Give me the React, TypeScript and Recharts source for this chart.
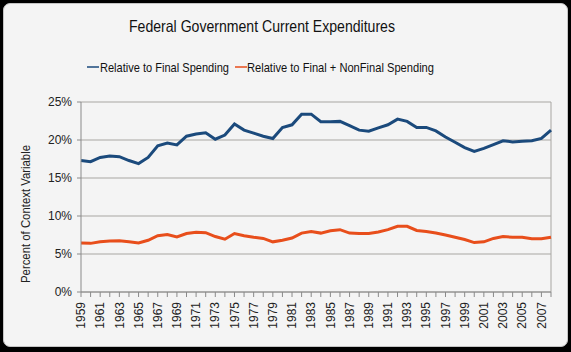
import React from 'react'
import {
  LineChart,
  Line,
  XAxis,
  YAxis,
  CartesianGrid,
  ReferenceLine,
} from 'recharts'

// Valores (% da variável de contexto)
const years = [
  1959, 1960, 1961, 1962, 1963, 1964, 1965, 1966, 1967, 1968,
  1969, 1970, 1971, 1972, 1973, 1974, 1975, 1976, 1977, 1978,
  1979, 1980, 1981, 1982, 1983, 1984, 1985, 1986, 1987, 1988,
  1989, 1990, 1991, 1992, 1993, 1994, 1995, 1996, 1997, 1998,
  1999, 2000, 2001, 2002, 2003, 2004, 2005, 2006, 2007, 2008,
]

const finalSpending = [
  17.3, 17.15, 17.7, 17.9, 17.8, 17.3, 16.9, 17.7, 19.25, 19.6,
  19.35, 20.5, 20.8, 20.95, 20.1, 20.65, 22.1, 21.3, 20.9, 20.5,
  20.2, 21.65, 22.0, 23.4, 23.4, 22.4, 22.4, 22.45, 21.9, 21.3,
  21.15, 21.6, 22.0, 22.75, 22.45, 21.65, 21.65, 21.2, 20.4, 19.7,
  19.0, 18.5, 18.9, 19.4, 19.9, 19.75, 19.85, 19.9, 20.2, 21.3,
]

const finalPlusNonFinal = [
  6.45, 6.4, 6.6, 6.7, 6.75, 6.6, 6.45, 6.8, 7.4, 7.55,
  7.25, 7.7, 7.85, 7.8, 7.3, 6.95, 7.7, 7.4, 7.2, 7.05,
  6.6, 6.8, 7.1, 7.75, 7.95, 7.75, 8.05, 8.2, 7.75, 7.7,
  7.7, 7.9, 8.2, 8.65, 8.65, 8.1, 7.95, 7.75, 7.5, 7.2,
  6.9, 6.5, 6.6, 7.05, 7.3, 7.2, 7.2, 7.0, 7.0, 7.2,
]

const yTicks = [0, 5, 10, 15, 20, 25]

const BLUE = '#1b4a7c'
const ORANGE = '#e84e1b'
const FONT = '"Liberation Sans", Arial, sans-serif'

const data = years.map((year, i) => ({
  year,
  final: finalSpending[i],
  nonFinal: finalPlusNonFinal[i],
}))

// Rótulos do eixo X: verticais, um a cada dois anos
const YearTick = (props: any) => {
  const { x, y, payload, index } = props
  if (index % 2 !== 0) return <g />
  const ty = y + 3
  return (
    <text
      x={x}
      y={ty}
      dy="0.35em"
      textAnchor="end"
      transform={`rotate(-90, ${x}, ${ty})`}
      fontSize={12}
      fontFamily={FONT}
      fill="#222"
    >
      {payload.value}
    </text>
  )
}

export default function App() {
  return (
    <div
      style={{
        position: 'absolute',
        left: 0,
        top: 0,
        width: 571,
        height: 352,
        background: '#000',
      }}
    >
      <div
        style={{
          position: 'absolute',
          left: 3,
          top: 3,
          width: 563,
          height: 342,
          background: '#f4f4f4',
          border: '1px solid #c4c4c4',
          borderRadius: 7,
        }}
      />
      <svg
        width={571}
        height={352}
        style={{ position: 'absolute', left: 0, top: 0 }}
      >
        <text
          x={129}
          y={32}
          fontSize={16.5}
          fontFamily={FONT}
          fill="#111"
          textLength={266}
          lengthAdjust="spacingAndGlyphs"
        >
          Federal Government Current Expenditures
        </text>
        <line x1={87} x2={99} y1={67} y2={67} stroke={BLUE} strokeWidth={1.5} />
        <text
          x={100}
          y={72}
          fontSize={13.5}
          fontFamily={FONT}
          fill="#111"
          textLength={129}
          lengthAdjust="spacingAndGlyphs"
        >
          Relative to Final Spending
        </text>
        <line x1={235} x2={247} y1={67} y2={67} stroke={ORANGE} strokeWidth={1.5} />
        <text
          x={247}
          y={72}
          fontSize={13.5}
          fontFamily={FONT}
          fill="#111"
          textLength={187}
          lengthAdjust="spacingAndGlyphs"
        >
          Relative to Final + NonFinal Spending
        </text>
        <text
          x={0}
          y={0}
          transform="translate(30, 214) rotate(-90)"
          textAnchor="middle"
          fontSize={12}
          fontFamily={FONT}
          fill="#222"
          textLength={138}
          lengthAdjust="spacingAndGlyphs"
        >
          Percent of Context Variable
        </text>
      </svg>
      <div style={{ position: 'absolute', left: 0, top: 0 }}>
        <LineChart
          width={571}
          height={352}
          data={data}
          margin={{ top: 102, right: 20, bottom: 0, left: 0 }}
        >
          <CartesianGrid vertical={false} stroke="#a8a6a2" strokeWidth={1} />
          <ReferenceLine x={2008} stroke="#a8a6a2" />
          <XAxis
            dataKey="year"
            height={60}
            interval={0}
            tickSize={5}
            tick={<YearTick />}
            axisLine={{ stroke: '#8a8a8a' }}
            tickLine={{ stroke: '#8a8a8a' }}
          />
          <YAxis
            width={81}
            domain={[0, 25]}
            ticks={yTicks}
            tickFormatter={(v: number) => `${v}%`}
            tickSize={4}
            tickMargin={5}
            tick={{ fontSize: 12, fill: '#222', fontFamily: FONT }}
            axisLine={{ stroke: '#8a8a8a' }}
            tickLine={{ stroke: '#8a8a8a' }}
          />
          <Line
            type="linear"
            dataKey="final"
            stroke={BLUE}
            strokeWidth={3}
            dot={false}
            isAnimationActive={false}
          />
          <Line
            type="linear"
            dataKey="nonFinal"
            stroke={ORANGE}
            strokeWidth={3}
            dot={false}
            isAnimationActive={false}
          />
        </LineChart>
      </div>
    </div>
  )
}
